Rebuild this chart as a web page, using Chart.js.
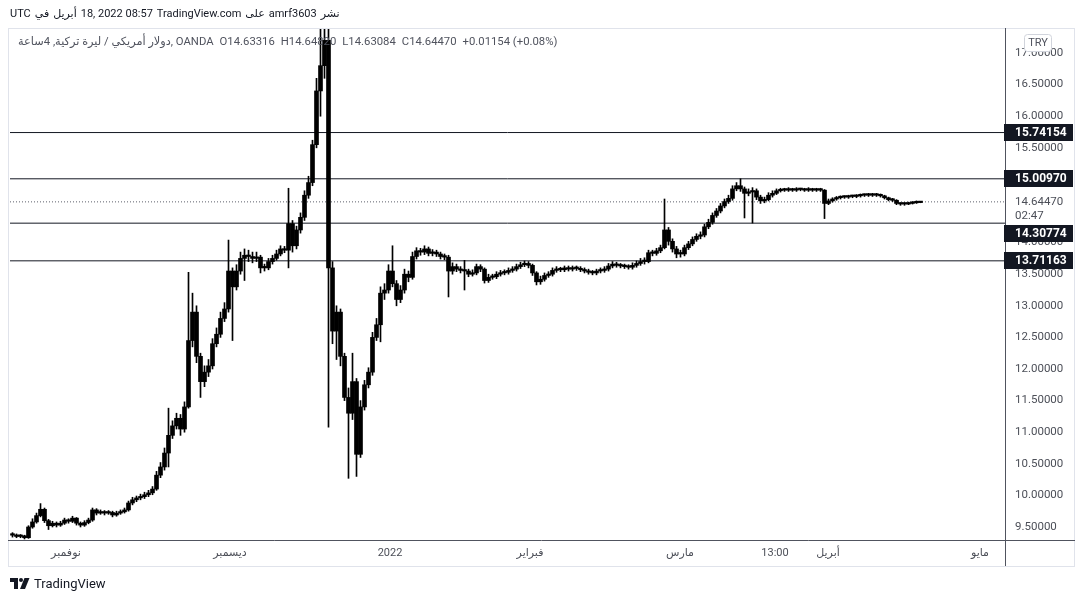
<!DOCTYPE html>
<html><head><meta charset="utf-8">
<script src="https://cdn.jsdelivr.net/npm/chart.js@4.4.1/dist/chart.umd.min.js"></script>
<style>
html,body{margin:0;padding:0;background:#fff;}
#wrap{position:relative;width:1083px;height:602px;overflow:hidden;font-family:Roboto,"Liberation Sans","DejaVu Sans",sans-serif;}
canvas{position:absolute;left:0;top:0;}
.hdr{position:absolute;left:10px;top:7px;display:flex;gap:4px;font-size:11px;color:#131722;white-space:nowrap;z-index:2;}
.leg{position:absolute;left:18px;top:35px;display:flex;gap:6px;font-size:11.3px;color:#50535e;white-space:nowrap;z-index:2;}
.brand{position:absolute;left:10px;top:576px;display:flex;align-items:center;gap:4px;font-size:13px;color:#131722;z-index:2;}
</style></head>
<body>
<div id="wrap">
  <div class="hdr" id="hdr"></div>
  <div class="leg" id="leg"></div>
  <canvas id="c" width="1083" height="602"></canvas>
  <div class="brand"><svg width="20" height="11" viewBox="0 0 20 11"><path d="M0 0h8v11H4V4H0z" fill="#131722"/><circle cx="11" cy="2" r="2" fill="#131722"/><path d="M14.5 0h5l-4.5 11h-5z" fill="#131722"/></svg><span>TradingView</span></div>
</div>
<script>
// ---- data (4h USD/TRY candles, sampled) ----
const opens = [
9.38,9.37,9.35,9.36,9.33,9.50,9.58,9.68,9.78,9.60,
9.52,9.56,9.53,9.56,9.61,9.59,9.64,9.56,9.53,9.57,
9.61,9.77,9.72,9.74,9.72,9.73,9.69,9.72,9.74,9.77,
9.88,9.93,9.96,9.98,10.01,10.04,10.10,10.32,10.45,10.67,
10.95,11.10,11.22,11.05,11.40,12.45,12.90,12.20,11.80,11.95,
12.05,12.40,12.55,12.80,12.95,13.55,13.30,13.55,13.75,13.80,
13.78,13.75,13.77,13.60,13.60,13.70,13.75,13.82,13.90,13.88,
14.30,13.95,14.20,14.40,14.75,14.95,15.55,16.40,16.80,17.20,
13.60,12.60,12.90,12.20,11.55,11.30,11.80,10.65,11.40,11.75,
11.95,12.50,12.70,13.20,13.25,13.55,13.35,13.10,13.25,13.50,
13.45,13.78,13.87,13.85,13.90,13.83,13.85,13.82,13.78,13.77,
13.55,13.62,13.58,13.56,13.55,13.50,13.52,13.62,13.58,13.40,
13.45,13.46,13.50,13.52,13.53,13.56,13.58,13.62,13.65,13.67,
13.64,13.52,13.38,13.42,13.48,13.50,13.56,13.58,13.57,13.60,
13.58,13.60,13.59,13.57,13.55,13.53,13.52,13.55,13.56,13.58,
13.63,13.66,13.64,13.63,13.62,13.61,13.64,13.67,13.70,13.70,
13.84,13.83,13.87,13.92,14.20,14.02,13.90,13.82,13.82,13.92,
13.98,14.05,14.10,14.12,14.25,14.32,14.43,14.50,14.58,14.65,
14.70,14.85,14.90,14.85,14.78,14.80,14.82,14.72,14.66,14.68,
14.75,14.78,14.82,14.83,14.83,14.84,14.83,14.84,14.84,14.83,
14.84,14.83,14.84,14.83,14.62,14.66,14.69,14.71,14.72,14.72,
14.73,14.73,14.74,14.75,14.75,14.76,14.75,14.76,14.74,14.71,
14.68,14.67,14.62,14.61,14.61,14.62,14.63,14.63316];
const highs = [
9.41,9.39,9.38,9.37,9.52,9.63,9.72,9.87,9.80,9.62,
9.59,9.58,9.59,9.64,9.63,9.67,9.65,9.58,9.60,9.64,
9.80,9.79,9.77,9.76,9.76,9.75,9.75,9.77,9.80,9.91,
9.97,9.99,10.02,10.05,10.08,10.14,10.38,10.52,10.75,11.38,
11.18,11.30,11.28,11.48,13.53,13.20,13.00,12.25,12.05,12.15,
12.48,12.65,12.90,13.05,14.04,13.60,13.65,13.85,13.90,13.88,
13.85,13.85,13.80,13.66,13.75,13.80,13.88,13.95,13.94,14.86,
14.35,14.26,14.47,14.82,15.05,15.62,16.60,17.60,17.60,18.36,
13.70,13.00,12.95,12.25,11.70,12.25,11.85,11.50,11.82,12.02,
12.58,12.80,13.30,13.35,13.65,13.95,13.40,13.32,13.58,13.55,
13.85,13.92,13.91,13.95,13.93,13.89,13.88,13.85,13.82,13.80,
13.68,13.66,13.62,13.72,13.58,13.57,13.66,13.65,13.60,13.50,
13.50,13.54,13.56,13.57,13.60,13.62,13.66,13.69,13.71,13.70,
13.66,13.54,13.47,13.52,13.54,13.60,13.62,13.61,13.63,13.63,
13.63,13.63,13.62,13.60,13.58,13.56,13.58,13.60,13.62,13.67,
13.70,13.69,13.67,13.66,13.65,13.68,13.71,13.75,13.76,13.88,
13.88,13.91,13.96,14.69,14.24,14.06,13.94,13.88,13.96,14.02,
14.09,14.14,14.17,14.29,14.37,14.47,14.54,14.62,14.69,14.75,
14.90,14.95,15.01,14.88,14.85,14.87,14.85,14.75,14.72,14.79,
14.82,14.85,14.86,14.86,14.87,14.86,14.87,14.86,14.86,14.87,
14.86,14.86,14.86,14.84,14.69,14.71,14.73,14.74,14.74,14.75,
14.75,14.76,14.77,14.77,14.78,14.78,14.78,14.77,14.75,14.72,
14.70,14.68,14.63,14.63,14.64,14.65,14.66,14.6482];
const lows = [
9.34,9.33,9.33,9.31,9.32,9.48,9.56,9.66,9.57,9.46,
9.50,9.50,9.51,9.54,9.56,9.57,9.53,9.50,9.51,9.55,
9.59,9.69,9.70,9.69,9.70,9.66,9.67,9.70,9.72,9.75,
9.85,9.90,9.93,9.95,9.98,10.01,10.08,10.28,10.40,10.45,
10.90,11.05,10.95,11.00,11.38,12.35,12.10,11.55,11.72,11.88,
12.00,12.35,12.50,12.75,12.90,12.45,13.25,13.50,13.40,13.70,
13.68,13.70,13.52,13.55,13.57,13.66,13.72,13.79,13.84,13.60,
13.85,13.90,14.15,14.35,14.70,14.90,15.50,16.00,16.60,11.08,
12.40,12.15,12.05,11.50,10.27,11.20,10.30,10.60,11.35,11.70,
11.90,12.45,12.43,13.10,13.20,13.30,13.00,13.05,13.20,13.38,
13.42,13.74,13.80,13.81,13.79,13.79,13.78,13.74,13.73,13.14,
13.50,13.54,13.52,13.25,13.46,13.47,13.49,13.54,13.36,13.37,
13.42,13.43,13.47,13.49,13.50,13.53,13.55,13.59,13.62,13.60,
13.48,13.33,13.34,13.39,13.45,13.47,13.53,13.54,13.54,13.55,
13.55,13.56,13.54,13.52,13.50,13.49,13.49,13.52,13.53,13.55,
13.60,13.61,13.60,13.59,13.58,13.58,13.61,13.64,13.66,13.68,
13.79,13.80,13.84,13.90,13.96,13.85,13.76,13.77,13.79,13.89,
13.95,14.02,14.06,14.09,14.22,14.29,14.40,14.47,14.55,14.62,
14.67,14.82,14.81,14.39,14.74,14.31,14.68,14.62,14.63,14.66,
14.72,14.76,14.80,14.81,14.81,14.81,14.81,14.82,14.81,14.81,
14.81,14.81,14.81,14.38,14.60,14.64,14.67,14.69,14.70,14.70,
14.71,14.71,14.72,14.73,14.73,14.73,14.73,14.72,14.69,14.66,
14.65,14.60,14.59,14.59,14.60,14.61,14.62,14.63084];
const closes = [
9.37,9.35,9.36,9.33,9.50,9.58,9.68,9.78,9.60,9.52,
9.56,9.53,9.56,9.61,9.59,9.64,9.56,9.53,9.57,9.61,
9.77,9.72,9.74,9.72,9.73,9.69,9.72,9.74,9.77,9.88,
9.93,9.96,9.98,10.01,10.04,10.10,10.32,10.45,10.67,10.95,
11.10,11.22,11.05,11.40,12.45,12.90,12.20,11.80,11.95,12.05,
12.40,12.55,12.80,12.95,13.55,13.30,13.55,13.75,13.80,13.78,
13.75,13.77,13.60,13.60,13.70,13.75,13.82,13.90,13.88,14.30,
13.95,14.20,14.40,14.75,14.95,15.55,16.40,16.80,17.20,13.60,
12.60,12.90,12.20,11.55,11.30,11.80,10.65,11.40,11.75,11.95,
12.50,12.70,13.20,13.25,13.55,13.35,13.10,13.25,13.50,13.45,
13.78,13.87,13.85,13.90,13.83,13.85,13.82,13.78,13.77,13.55,
13.62,13.58,13.56,13.55,13.50,13.52,13.62,13.58,13.40,13.45,
13.46,13.50,13.52,13.53,13.56,13.58,13.62,13.65,13.67,13.64,
13.52,13.38,13.42,13.48,13.50,13.56,13.58,13.57,13.60,13.58,
13.60,13.59,13.57,13.55,13.53,13.52,13.55,13.56,13.58,13.63,
13.66,13.64,13.63,13.62,13.61,13.64,13.67,13.70,13.70,13.84,
13.83,13.87,13.92,14.20,14.02,13.90,13.82,13.82,13.92,13.98,
14.05,14.10,14.12,14.25,14.32,14.43,14.50,14.58,14.65,14.70,
14.85,14.90,14.85,14.78,14.80,14.82,14.72,14.66,14.68,14.75,
14.78,14.82,14.83,14.83,14.84,14.83,14.84,14.84,14.83,14.84,
14.83,14.84,14.83,14.62,14.66,14.69,14.71,14.72,14.72,14.73,
14.73,14.74,14.75,14.75,14.76,14.75,14.76,14.74,14.71,14.68,
14.67,14.62,14.61,14.61,14.62,14.63,14.64,14.6447];

const levelValues = [15.74154, 15.00970, 14.30774, 13.71163];
const countdown = "02:47";
const priceTicks = [9.5,10,10.5,11,11.5,12,12.5,13,13.5,14,14.5,15,15.5,16,16.5,17];
const timeTickLabels = ["نوفمبر","ديسمبر","2022","فبراير","مارس","13:00","أبريل","مايو"];
const timeTickIndex = [13.375, 54.375, 94.375, 129.375, 166.875, 190.625, 203.875, 241.875];
const headerParts = ["UTC","في","أبريل","18, 2022 08:57","TradingView.com","على","amrf3603","نشر"];
const symbolText = "دولار أمريكي / ليرة تركية, 4ساعة, OANDA";

// ---- layout constants ----
const X_MIN = -0.625, X_MAX = 248.125;
const Y_MIN = 9.294, Y_MAX = 17.396;
const FONT = 'Roboto, "Liberation Sans", "DejaVu Sans", sans-serif';

// header + legend
const hdr = document.getElementById('hdr');
headerParts.forEach(t => { const s = document.createElement('span'); s.textContent = t; s.style.unicodeBidi='isolate'; hdr.appendChild(s); });
const n = closes.length - 1;
const chg = closes[n] - opens[n];
const legParts = [symbolText, 'O' + opens[n].toFixed(5), 'H' + highs[n].toFixed(5), 'L' + lows[n].toFixed(5), 'C' + closes[n].toFixed(5),
  (chg >= 0 ? '+' : '') + chg.toFixed(5) + ' (' + (chg >= 0 ? '+' : '') + (chg / opens[n] * 100).toFixed(2) + '%)'];
const leg = document.getElementById('leg');
legParts.forEach(t => { const s = document.createElement('span'); s.textContent = t; leg.appendChild(s); });

const lastPrice = closes[n];

const overlay = {
  id: 'overlay',
  afterDraw(chart) {
    const ctx = chart.ctx, a = chart.chartArea, y = chart.scales.y;
    const W = chart.width;
    ctx.save();
    // frame
    ctx.strokeStyle = '#e0e3eb'; ctx.lineWidth = 1;
    ctx.strokeRect(8.5, a.top + 0.5, W - 17, a.bottom + 26 - a.top);
    // separators
    ctx.strokeStyle = '#50535e';
    ctx.beginPath();
    ctx.moveTo(a.right + 0.5, a.top); ctx.lineTo(a.right + 0.5, a.bottom + 26);
    ctx.moveTo(8, a.bottom + 0.5); ctx.lineTo(W - 8, a.bottom + 0.5);
    ctx.stroke();
    // last price label + countdown
    const pY = y.getPixelForValue(lastPrice);
    ctx.fillStyle = '#fff';
    ctx.fillRect(a.right + 2, pY - 8, 66, 29);
    ctx.font = '11.5px ' + FONT; ctx.textBaseline = 'middle'; ctx.textAlign = 'left';
    ctx.fillStyle = '#4c4f58';
    ctx.fillText(lastPrice.toFixed(5), a.right + 10, pY);
    ctx.fillText(countdown, a.right + 10, pY + 14);
    // level boxes
    levelValues.forEach(v => {
      const cy = y.getPixelForValue(v);
      let top = Math.round(cy - 8.5);
      if (top < pY + 21 && top + 17 > pY - 8) top = Math.round(pY + 23);
      ctx.fillStyle = '#131722';
      ctx.fillRect(a.right - 1, top, 69, 17);
      ctx.fillStyle = '#fff';
      ctx.font = 'bold 12px ' + FONT;
      ctx.fillText(v.toFixed(5), a.right + 10, top + 9);
    });
    // currency badge
    ctx.fillStyle = '#fff'; ctx.strokeStyle = '#d1d4dc';
    ctx.beginPath();
    ctx.roundRect(a.right + 19.5, a.top + 6.5, 27, 17, 3);
    ctx.fill(); ctx.stroke();
    ctx.fillStyle = '#50535e'; ctx.font = '11px ' + FONT; ctx.textAlign = 'center';
    ctx.fillText('TRY', a.right + 33, a.top + 15.5);
    ctx.restore();
  }
};

const wickData = closes.map((c, i) => ({ x: i, y: [lows[i], highs[i]] }));
const bodyData = closes.map((c, i) => ({ x: i, y: [opens[i], c] }));
const levelSets = levelValues.map(v => ({
  type: 'line', data: [{ x: X_MIN, y: v }, { x: X_MAX, y: v }],
  borderColor: '#131722', borderWidth: 1, pointRadius: 0, order: 2
}));

new Chart(document.getElementById('c'), {
  type: 'bar',
  data: {
    datasets: [
      { data: bodyData, backgroundColor: '#000', barThickness: 4, minBarLength: 1.5, grouped: false, order: 0 },
      { data: wickData, backgroundColor: '#000', barThickness: 1, grouped: false, order: 1 },
      { type: 'line', data: [{ x: X_MIN, y: lastPrice }, { x: X_MAX, y: lastPrice }], borderColor: '#5d606b', borderWidth: 1, borderDash: [1, 2], pointRadius: 0, order: 3 },
      ...levelSets
    ]
  },
  options: {
    responsive: false, devicePixelRatio: 1, animation: false,
    layout: { padding: { left: 10, right: 8, top: 28, bottom: 36 } },
    plugins: { legend: { display: false }, tooltip: { enabled: false } },
    scales: {
      x: {
        type: 'linear', min: X_MIN, max: X_MAX, offset: false,
        afterFit: s => { s.height = 26; },
        afterBuildTicks: s => { s.ticks = timeTickIndex.map(v => ({ value: v })); },
        grid: { display: false, drawTicks: false }, border: { display: false },
        ticks: { autoSkip: false, maxRotation: 0, padding: 7, color: '#4c4f58', font: { size: 11, family: FONT },
          callback: (v, i) => timeTickLabels[i] }
      },
      y: {
        type: 'linear', position: 'right', min: Y_MIN, max: Y_MAX,
        afterFit: s => { s.width = 70; },
        afterBuildTicks: s => { s.ticks = priceTicks.map(v => ({ value: v })); },
        grid: { display: false, drawTicks: false }, border: { display: false },
        ticks: { padding: 10, color: '#4c4f58', font: { size: 11.5, family: FONT }, callback: v => v.toFixed(5) }
      }
    }
  },
  plugins: [overlay]
});
</script>
</body></html>
